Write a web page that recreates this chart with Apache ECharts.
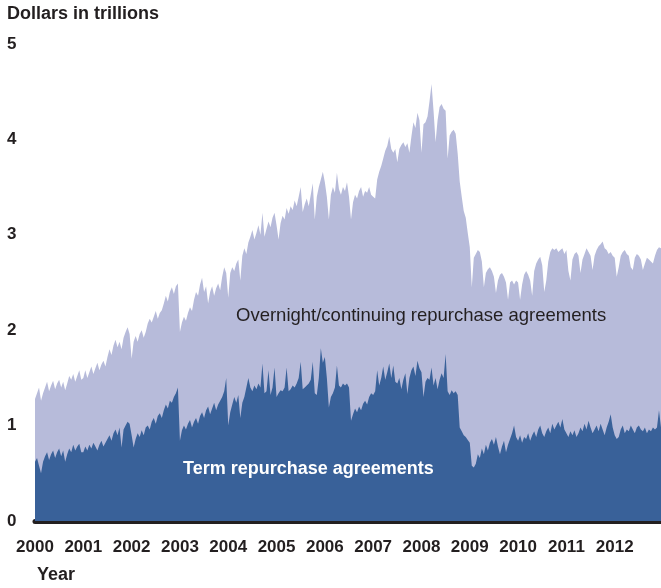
<!DOCTYPE html>
<html>
<head>
<meta charset="utf-8">
<script src="https://cdn.jsdelivr.net/npm/echarts@6/dist/echarts.min.js"></script>
<style>
  html, body { margin: 0; padding: 0; background: #fff; }
  #chart { width: 661px; height: 588px; }
</style>
</head>
<body>
<div id="chart"></div>
<script>
// repurchase agreements outstanding, dollars in trillions, read twice a month
const years = [2000, 2001, 2002, 2003, 2004, 2005, 2006, 2007, 2008, 2009, 2010, 2011, 2012];
const periodsPerYear = 24;

// top edge: overnight/continuing + term
const total2000 = [1.28, 1.34, 1.40, 1.26, 1.34, 1.40, 1.46, 1.36, 1.42, 1.47, 1.38, 1.44, 1.48, 1.40, 1.46, 1.37, 1.44, 1.52, 1.48, 1.54, 1.46, 1.52, 1.58, 1.48];
const total2001 = [1.50, 1.58, 1.50, 1.56, 1.62, 1.54, 1.60, 1.66, 1.58, 1.64, 1.68, 1.62, 1.72, 1.80, 1.74, 1.84, 1.90, 1.82, 1.88, 1.80, 1.92, 1.98, 2.03, 1.96];
const total2002 = [1.70, 1.88, 1.94, 1.88, 1.96, 2.00, 1.92, 1.98, 2.07, 2.12, 2.08, 2.14, 2.20, 2.12, 2.18, 2.21, 2.28, 2.36, 2.30, 2.40, 2.45, 2.38, 2.46, 2.49];
const total2003 = [1.98, 2.08, 2.14, 2.10, 2.18, 2.24, 2.20, 2.32, 2.40, 2.36, 2.48, 2.55, 2.40, 2.46, 2.28, 2.40, 2.46, 2.36, 2.44, 2.49, 2.42, 2.56, 2.66, 2.60];
const total2004 = [2.34, 2.60, 2.66, 2.62, 2.70, 2.74, 2.52, 2.78, 2.86, 2.80, 2.92, 2.98, 3.05, 2.95, 3.02, 3.10, 3.00, 3.23, 2.98, 3.06, 3.14, 3.08, 3.18, 3.23];
const total2005 = [3.10, 2.95, 3.12, 3.20, 3.16, 3.28, 3.22, 3.30, 3.26, 3.36, 3.30, 3.40, 3.50, 3.24, 3.32, 3.38, 3.30, 3.42, 3.54, 3.16, 3.40, 3.50, 3.58, 3.66];
const total2006 = [3.55, 3.40, 3.16, 3.42, 3.50, 3.44, 3.65, 3.48, 3.42, 3.50, 3.46, 3.55, 3.40, 3.16, 3.34, 3.42, 3.38, 3.46, 3.50, 3.40, 3.46, 3.44, 3.50, 3.42];
const total2007 = [3.40, 3.38, 3.58, 3.66, 3.72, 3.80, 3.88, 3.93, 4.03, 3.90, 3.86, 3.90, 3.76, 3.90, 3.94, 3.97, 3.92, 3.96, 3.86, 4.03, 4.18, 4.12, 4.28, 4.20];
const total2008 = [3.86, 4.16, 4.18, 4.24, 4.40, 4.58, 4.30, 3.97, 4.20, 4.34, 4.37, 4.32, 4.30, 3.80, 4.04, 4.08, 4.10, 4.06, 3.85, 3.56, 3.40, 3.25, 3.18, 3.02];
const total2009 = [2.87, 2.45, 2.76, 2.80, 2.84, 2.82, 2.72, 2.45, 2.60, 2.64, 2.66, 2.62, 2.56, 2.39, 2.52, 2.58, 2.60, 2.56, 2.50, 2.32, 2.50, 2.52, 2.48, 2.52];
const total2010 = [2.50, 2.32, 2.48, 2.58, 2.62, 2.58, 2.52, 2.36, 2.62, 2.70, 2.74, 2.77, 2.68, 2.40, 2.52, 2.72, 2.82, 2.86, 2.84, 2.86, 2.82, 2.84, 2.86, 2.80];
const total2011 = [2.84, 2.62, 2.52, 2.74, 2.80, 2.82, 2.78, 2.60, 2.74, 2.80, 2.86, 2.82, 2.78, 2.63, 2.78, 2.84, 2.88, 2.90, 2.93, 2.86, 2.84, 2.80, 2.82, 2.78];
const total2012 = [2.76, 2.56, 2.66, 2.78, 2.82, 2.84, 2.80, 2.78, 2.66, 2.63, 2.76, 2.80, 2.78, 2.74, 2.63, 2.70, 2.76, 2.74, 2.72, 2.70, 2.78, 2.84, 2.87, 2.86];

// term repurchase agreements
const term2000 = [0.62, 0.66, 0.58, 0.50, 0.62, 0.68, 0.72, 0.64, 0.70, 0.74, 0.66, 0.72, 0.76, 0.68, 0.74, 0.62, 0.70, 0.76, 0.72, 0.80, 0.74, 0.78, 0.81, 0.72];
const term2001 = [0.72, 0.78, 0.74, 0.80, 0.76, 0.82, 0.78, 0.74, 0.80, 0.84, 0.78, 0.82, 0.86, 0.90, 0.84, 0.92, 0.96, 0.90, 0.98, 0.77, 0.96, 1.00, 1.04, 1.02];
const term2002 = [0.90, 0.77, 0.86, 0.92, 0.88, 0.95, 0.90, 0.98, 1.00, 0.96, 1.04, 1.08, 1.02, 1.10, 1.13, 1.08, 1.16, 1.22, 1.18, 1.26, 1.24, 1.30, 1.34, 1.40];
const term2003 = [0.84, 0.95, 1.00, 0.96, 1.02, 1.06, 0.98, 1.04, 1.08, 1.02, 1.10, 1.14, 1.08, 1.16, 1.20, 1.12, 1.18, 1.24, 1.16, 1.22, 1.26, 1.30, 1.36, 1.50];
const term2004 = [1.00, 1.14, 1.22, 1.30, 1.24, 1.32, 1.08, 1.24, 1.30, 1.40, 1.50, 1.40, 1.36, 1.42, 1.38, 1.44, 1.40, 1.65, 1.34, 1.36, 1.58, 1.32, 1.40, 1.61];
const term2005 = [1.30, 1.34, 1.37, 1.36, 1.40, 1.61, 1.36, 1.38, 1.42, 1.40, 1.44, 1.50, 1.67, 1.38, 1.40, 1.42, 1.44, 1.48, 1.67, 1.34, 1.32, 1.50, 1.81, 1.66];
const term2006 = [1.72, 1.50, 1.19, 1.30, 1.34, 1.40, 1.63, 1.42, 1.40, 1.44, 1.42, 1.44, 1.40, 1.05, 1.12, 1.18, 1.14, 1.20, 1.16, 1.23, 1.26, 1.22, 1.30, 1.34];
const term2007 = [1.32, 1.36, 1.58, 1.42, 1.50, 1.62, 1.48, 1.56, 1.65, 1.50, 1.63, 1.46, 1.44, 1.50, 1.38, 1.48, 1.55, 1.33, 1.50, 1.58, 1.62, 1.52, 1.68, 1.60];
const term2008 = [1.56, 1.30, 1.46, 1.50, 1.48, 1.61, 1.42, 1.50, 1.38, 1.48, 1.55, 1.50, 1.75, 1.36, 1.32, 1.37, 1.34, 1.36, 1.32, 0.98, 0.94, 0.90, 0.88, 0.85];
const term2009 = [0.82, 0.58, 0.56, 0.60, 0.70, 0.66, 0.76, 0.70, 0.80, 0.74, 0.82, 0.86, 0.80, 0.88, 0.78, 0.70, 0.78, 0.84, 0.72, 0.80, 0.86, 0.92, 1.00, 0.88];
const term2010 = [0.84, 0.90, 0.82, 0.88, 0.86, 0.92, 0.84, 0.90, 0.94, 0.88, 0.96, 1.00, 0.92, 0.88, 0.94, 0.98, 0.92, 1.02, 0.96, 1.00, 1.04, 0.98, 1.07, 0.96];
const term2011 = [0.92, 0.88, 0.94, 0.90, 0.95, 0.88, 0.92, 0.98, 0.94, 1.02, 0.96, 1.05, 0.98, 0.92, 0.96, 1.00, 0.94, 1.02, 0.96, 0.90, 0.98, 1.04, 1.12, 0.98];
const term2012 = [0.90, 0.86, 0.88, 0.96, 1.00, 0.92, 0.96, 0.94, 1.00, 0.96, 0.92, 0.98, 1.00, 0.96, 0.94, 0.98, 0.92, 0.96, 0.94, 0.98, 0.96, 0.98, 1.16, 0.98];

const totalByYear = [total2000, total2001, total2002, total2003, total2004, total2005, total2006,
  total2007, total2008, total2009, total2010, total2011, total2012];
const termByYear = [term2000, term2001, term2002, term2003, term2004, term2005, term2006,
  term2007, term2008, term2009, term2010, term2011, term2012];

function toPoints(byYear) {
  const pts = [];
  byYear.forEach((vals, k) => {
    vals.forEach((v, i) => pts.push([years[k] + i / periodsPerYear, v]));
  });
  return pts;
}

const FONT = "'Liberation Sans', Arial, Helvetica, sans-serif";
const INK = '#231f20';

const chart = echarts.init(document.getElementById('chart'));

chart.setOption({
  animation: false,
  backgroundColor: '#fff',
  grid: { left: 35, right: 0, top: 44, bottom: 67, outerBoundsMode: 'none' },
  xAxis: {
    type: 'value',
    min: 2000,
    max: 2012 + 23 / periodsPerYear,
    interval: 1,
    splitLine: { show: false },
    axisTick: { show: false },
    axisLine: { lineStyle: { color: INK, width: 5 } },
    axisLabel: {
      margin: 18,
      color: INK,
      fontFamily: FONT,
      fontWeight: 'bold',
      fontSize: 17,
      formatter: v => (Number.isInteger(v) ? String(v) : '')
    }
  },
  yAxis: {
    type: 'value',
    min: 0,
    max: 5,
    interval: 1,
    splitLine: { show: false },
    axisTick: { show: false },
    axisLine: { show: false },
    axisLabel: {
      align: 'left',
      margin: 28,
      color: INK,
      fontFamily: FONT,
      fontWeight: 'bold',
      fontSize: 17
    }
  },
  series: [
    {
      name: 'Overnight/continuing repurchase agreements',
      type: 'line',
      data: toPoints(totalByYear),
      showSymbol: false,
      lineStyle: { width: 0 },
      areaStyle: { color: '#b7bbda', opacity: 1 },
      z: 1
    },
    {
      name: 'Term repurchase agreements',
      type: 'line',
      data: toPoints(termByYear),
      showSymbol: false,
      lineStyle: { width: 0 },
      areaStyle: { color: '#396199', opacity: 1 },
      z: 2
    }
  ],
  graphic: [
    {
      type: 'text', left: 7, top: 5,
      style: { text: 'Dollars in trillions', fill: INK, font: `bold 18px ${FONT}` }
    },
    {
      type: 'text', left: 37, top: 566,
      style: { text: 'Year', fill: INK, font: `bold 18px ${FONT}` }
    },
    {
      type: 'text', left: 236, top: 306, z: 10,
      style: { text: 'Overnight/continuing repurchase agreements', fill: INK, font: `18.5px ${FONT}` }
    },
    {
      type: 'text', left: 183, top: 460, z: 10,
      style: { text: 'Term repurchase agreements', fill: '#ffffff', font: `bold 18px ${FONT}` }
    }
  ]
});
</script>
</body>
</html>
